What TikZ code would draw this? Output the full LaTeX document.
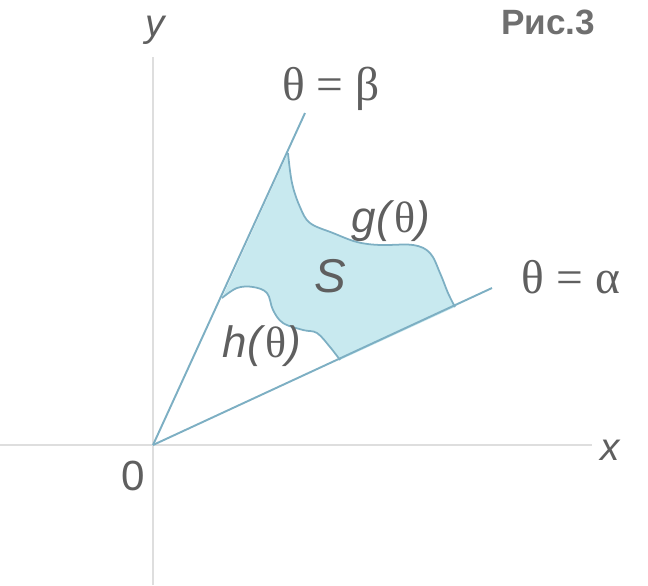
\documentclass[tikz,border=0pt]{standalone}
\usepackage{fontspec}
\setmainfont{Liberation Sans}
\newfontfamily\grk{Liberation Serif}
\usepackage{tikz}
\usetikzlibrary{calc}
\definecolor{region}{RGB}{200,233,239}
\definecolor{edge}{RGB}{125,175,195}
\definecolor{axisgray}{RGB}{222,222,222}
\definecolor{labelgray}{RGB}{95,95,95}

\begin{document}
\begin{tikzpicture}[
    x=0.02cm, y=-0.02cm,
    axis/.style={draw=axisgray, line width=1pt},
    ray/.style={draw=edge, line width=1.1pt},
    curve/.style={draw=edge, line width=1pt},
    lbl/.style={text=labelgray, inner sep=0pt, font=\fontsize{25}{30}\selectfont},
    eqlbl/.style={lbl, font=\fontsize{27}{32}\selectfont\grk},
    axislbl/.style={lbl, font=\fontsize{22}{26}\selectfont\itshape}
  ]
  \useasboundingbox (0,0) rectangle (648,585);

  \coordinate (O) at (153,445);
  \coordinate (xend) at (592,445);
  \coordinate (xstart) at (0,445);
  \coordinate (yend) at (153,57);
  \coordinate (ystart) at (153,585);
  \coordinate (B) at (305,113);
  \coordinate (A) at (492,288);

  % axes
  \draw[axis] (xstart) -- (xend);
  \draw[axis] (ystart) -- (yend);

  % region S
  \fill[region] (288,153)
    -- plot[smooth, tension=0.6] coordinates {(288,153) (292,183) (300,207) (310,223) (333,233) (357,242) (380,245) (413,245) (430,253) (440,273) (448,293) (455,307)}
    -- plot[smooth, tension=0.6] coordinates {(340,360) (330,347) (317,333) (303,330) (283,323) (273,310) (267,293) (253,287) (237,288) (222,298)}
    -- cycle;
  \draw[curve] plot[smooth, tension=0.6] coordinates {(288,153) (292,183) (300,207) (310,223) (333,233) (357,242) (380,245) (413,245) (430,253) (440,273) (448,293) (455,307)};
  \draw[curve] plot[smooth, tension=0.6] coordinates {(340,360) (330,347) (317,333) (303,330) (283,323) (273,310) (267,293) (253,287) (237,288) (222,298)};

  % rays
  \draw[ray] (O) -- (B);
  \draw[ray] (O) -- (A);

  \node[axislbl] (xlbl) at (610,450) {x};
  \node[axislbl] (ylbl) at (155,30) {y};
  \node[lbl, font=\fontsize{24}{28}\selectfont] (zero) at (133,476) {0};
  \node[lbl, font=\fontsize{20}{24}\selectfont\bfseries, text=labelgray!90] (fig) at (548,22) {Рис.3};

  \node[eqlbl] (beta) at (331,89) {θ = β};
  \node[eqlbl] (alpha) at (571,277) {θ = α};
  \node[lbl] (glbl) at (391,221) {\textit{g(}{\grk θ}\textit{)}};
  \node[lbl] (hlbl) at (262,346) {\textit{h(}{\grk θ}\textit{)}};
  \node[lbl, font=\fontsize{27}{32}\selectfont] (S) at (330,276) {\textit{S}};

\end{tikzpicture}
\end{document}
